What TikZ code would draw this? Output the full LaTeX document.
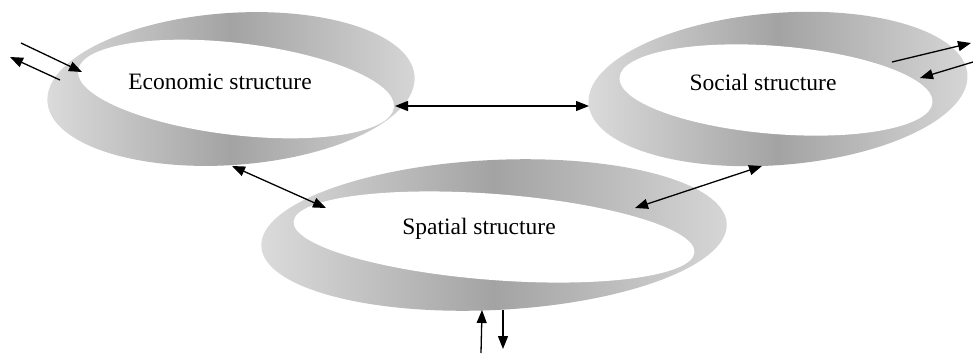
\documentclass[tikz,border=0pt]{standalone}
\usepackage{fontspec}
\setmainfont{Liberation Serif}
\usetikzlibrary{arrows.meta}
\begin{document}
\begin{tikzpicture}[x=1bp,y=-1bp,
  band/.style={left color=gray!28, right color=gray!32, middle color=gray!72},
  hole/.style={fill=white},
  lbl/.style={font=\fontsize{23.5bp}{28bp}\selectfont, inner sep=0pt},
  link/.style={line width=1.3bp, {Triangle[length=13bp,width=10bp]}-{Triangle[length=13bp,width=10bp]}},
  oneway/.style={line width=1.3bp, -{Triangle[length=13bp,width=10bp]}}]
\useasboundingbox (0,0) rectangle (973,353);
% rings
\path[band] (231,89) ellipse [x radius=184bp, y radius=76bp, rotate=4];
\path[hole] (236,89) ellipse [x radius=159bp, y radius=46bp, rotate=-6.7];
\path[band] (778,89) ellipse [x radius=190bp, y radius=76bp, rotate=4.5];
\path[hole] (776,90) ellipse [x radius=157bp, y radius=44bp, rotate=-4.6];
\path[band] (494,235) ellipse [x radius=233bp, y radius=75bp, rotate=2.8];
\path[hole] (494,237) ellipse [x radius=201bp, y radius=43bp, rotate=-4.4];
% labels
\node[lbl] (eco) at (220,82) {Economic structure};
\node[lbl] (soc) at (763,82) {Social structure};
\node[lbl] (spa) at (479,229) {Spatial structure};
% connector ends
\coordinate (es) at (395,106);
\coordinate (se) at (589,106);
\coordinate (ed) at (232,166);
\coordinate (de) at (326,208);
\coordinate (sd) at (762,166);
\coordinate (ds) at (635,208);
\coordinate (l1a) at (21,43);
\coordinate (l1b) at (82,72);
\coordinate (l2a) at (60,80);
\coordinate (l2b) at (10,57);
\coordinate (r1a) at (892,62);
\coordinate (r1b) at (971,43);
\coordinate (r2a) at (973,62);
\coordinate (r2b) at (920,78);
\coordinate (b1a) at (481,353);
\coordinate (b1b) at (482,310);
\coordinate (b2a) at (503,310);
\coordinate (b2b) at (503,349);
% connectors
\draw[link] (es) -- (se);
\draw[link] (ed) -- (de);
\draw[link] (sd) -- (ds);
\draw[oneway] (l1a) -- (l1b);
\draw[oneway] (l2a) -- (l2b);
\draw[oneway] (r1a) -- (r1b);
\draw[oneway] (r2a) -- (r2b);
\draw[oneway] (b1a) -- (b1b);
\draw[oneway] (b2a) -- (b2b);
\end{tikzpicture}
\end{document}
